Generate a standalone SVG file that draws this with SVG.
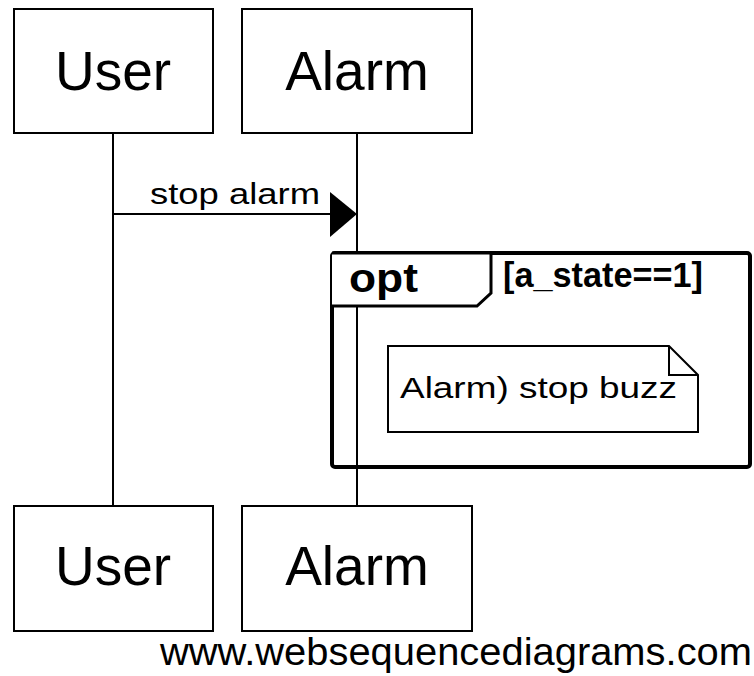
<svg xmlns="http://www.w3.org/2000/svg" width="754" height="676" viewBox="0 0 754 676">
<style>
.box{fill:#fff;stroke:#000;stroke-width:2}
.life{stroke:#000;stroke-width:2;fill:none}
.t{font-family:"Liberation Sans",Arial,sans-serif;fill:#000}
.big{font-size:55px}
.small{font-size:30px}
.frame{fill:none;stroke:#000;stroke-width:4}
</style>
<rect width="754" height="676" fill="#fff"/>
<g id="connectors">
<line class="life" x1="113" y1="133" x2="113" y2="506"/>
<line class="life" x1="357" y1="133" x2="357" y2="506"/>
<line class="life" x1="113" y1="214" x2="332" y2="214"/>
<polygon points="330,192 357,214 330,237" fill="#000"/>
<text class="t small" x="150" y="204" textLength="170" lengthAdjust="spacingAndGlyphs">stop alarm</text>
</g>
<g id="opt">
<rect class="frame" x="332" y="253" width="418" height="214" rx="3"/>
<path d="M332,253 H491 V293 L477,306 H332" fill="#fff" stroke="#000" stroke-width="3"/>
<text class="t" x="349" y="292" font-size="41" font-weight="bold" textLength="69" lengthAdjust="spacingAndGlyphs">opt</text>
<text class="t" x="503" y="287" font-size="35" font-weight="bold" textLength="200" lengthAdjust="spacingAndGlyphs">[a_state==1]</text>
</g>
<g id="note">
<path d="M388,346 H669 L698,375 V432 H388 Z" fill="#fff" stroke="#000" stroke-width="2"/>
<path d="M669,346 V375 H698" fill="none" stroke="#000" stroke-width="2"/>
<text class="t small" x="400" y="398" textLength="277" lengthAdjust="spacingAndGlyphs">Alarm) stop buzz</text>
</g>
<g id="user-top">
<rect class="box" x="14" y="9" width="199" height="124"/>
<text class="t big" x="113" y="90" text-anchor="middle">User</text>
</g>
<g id="alarm-top">
<rect class="box" x="242" y="9" width="230" height="124"/>
<text class="t big" x="357" y="90" text-anchor="middle">Alarm</text>
</g>
<g id="user-bottom">
<rect class="box" x="14" y="506" width="199" height="125"/>
<text class="t big" x="113" y="585" text-anchor="middle">User</text>
</g>
<g id="alarm-bottom">
<rect class="box" x="242" y="506" width="230" height="125"/>
<text class="t big" x="357" y="585" text-anchor="middle">Alarm</text>
</g>
<text class="t" x="160" y="665" font-size="39.7" textLength="592" lengthAdjust="spacingAndGlyphs">www.websequencediagrams.com</text>
</svg>
